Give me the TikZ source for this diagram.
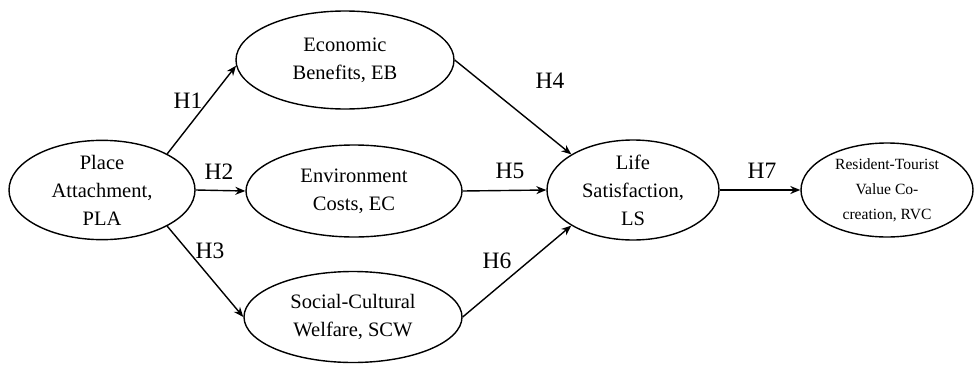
\documentclass[tikz,border=0pt]{standalone}
\usepackage{fontspec}
\setmainfont{Liberation Serif}
\usetikzlibrary{shapes.geometric,arrows.meta}
\begin{document}
\begin{tikzpicture}[x=1pt,y=-1pt,
  ell/.style={draw,line width=1.4pt,ellipse,inner sep=0pt,align=center,font=\fontsize{20.5}{28}\selectfont},
  arr/.style={line width=1.4pt,-{Stealth[length=10pt,width=8pt]}},
  hlab/.style={font=\fontsize{23.5}{27}\selectfont}]
\useasboundingbox (0,0) rectangle (974,364);
\node[ell,minimum width=186pt,minimum height=96pt] (pla) at (102,190) {Place\\Attachment,\\PLA};
\node[ell,minimum width=218pt,minimum height=98pt] (eb) at (345,60) {Economic\\Benefits, EB};
\node[ell,minimum width=216pt,minimum height=92pt] (ec) at (354,191) {Environment\\Costs, EC};
\node[ell,minimum width=218pt,minimum height=91pt] (scw) at (353,317) {Social-Cultural\\Welfare, SCW};
\node[ell,minimum width=172pt,minimum height=100pt] (ls) at (633,190) {Life\\Satisfaction,\\LS};
\node[ell,minimum width=172pt,minimum height=94pt,font=\fontsize{15.6}{25}\selectfont] (rvc) at (887,190) {Resident-Tourist\\Value Co-\\creation, RVC};
\draw[arr] (pla.29) -- (eb.183);
\draw[arr] (pla.east) -- (ec.west);
\draw[arr] (pla.-29) -- (scw.west);
\draw[arr] (eb.east) -- (ls.150);
\draw[arr] (ec.east) -- (ls.west);
\draw[arr] (scw.east) -- (ls.210);
\draw[arr] (ls.east) -- (rvc.west);
\node[hlab] (h1) at (188,101) {H1};
\node[hlab] (h2) at (219,172) {H2};
\node[hlab] (h3) at (210,251) {H3};
\node[hlab] (h4) at (550,81) {H4};
\node[hlab] (h5) at (510,171) {H5};
\node[hlab] (h6) at (497,261) {H6};
\node[hlab] (h7) at (762,171) {H7};
\end{tikzpicture}
\end{document}
